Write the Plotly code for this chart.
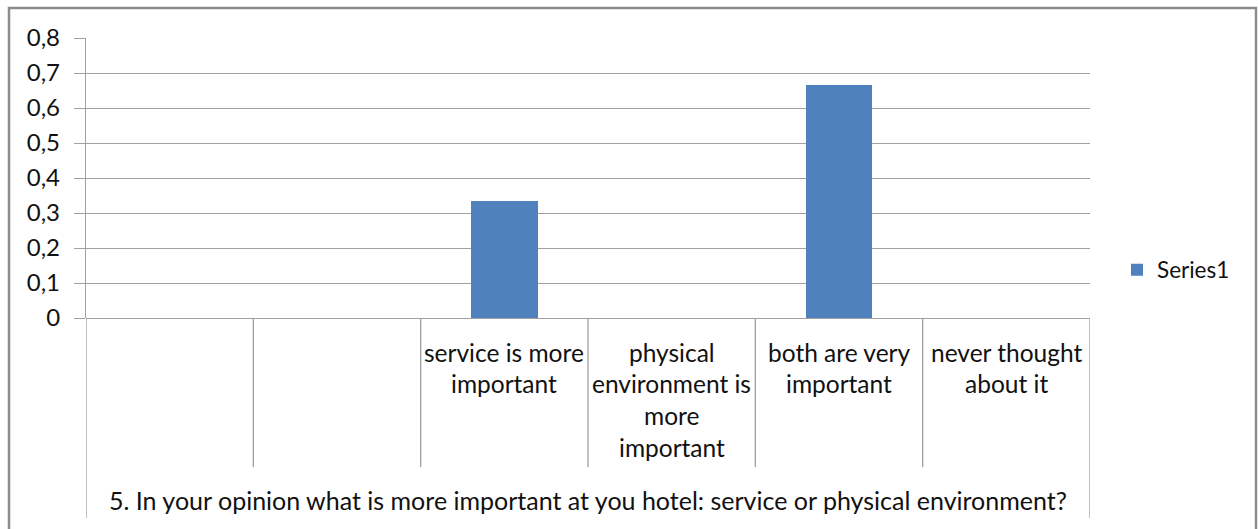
import plotly.graph_objects as go

# ---- data ----
categories = ["", "", "service is more important", "physical environment is more important",
              "both are very important", "never thought about it"]
category_lines = [[], [], ["service is more", "important"],
                  ["physical", "environment is", "more", "important"],
                  ["both are very", "important"], ["never thought", "about it"]]
values = [None, None, 0.333, None, 0.667, None]
group_label = "5. In your opinion what is more important at you hotel: service or physical environment?"
series_name = "Series1"
y_tick_vals = [0, 0.1, 0.2, 0.3, 0.4, 0.5, 0.6, 0.7, 0.8]
y_tick_text = ["0", "0,1", "0,2", "0,3", "0,4", "0,5", "0,6", "0,7", "0,8"]

# ---- layout geometry (pixels) ----
W, H = 1259, 529
PL, PR, PT, PB = 86, 1090, 38, 318   # plot area
ph = PB - PT
pw = PR - PL

def py(y):  # pixel y -> paper y
    return (PB - y) / ph

def px(x):  # pixel x -> paper x
    return (x - PL) / pw

FONT = "Lato"
TXT = "#111"
GRID = "#a0a0a0"
n = len(categories)

fig = go.Figure()
fig.add_trace(go.Bar(
    x=list(range(n)), y=values, name=series_name, width=0.4,
    marker=dict(color="#4F81BD", line=dict(width=0)),
    showlegend=True,
))

shapes = []
# category dividers
for i in range(n + 1):
    xb = i - 0.5
    outer = i == 0 or i == n
    shapes.append(dict(type="line", xref="x", yref="paper", x0=xb, x1=xb,
                       y0=0, y1=py(518 if outer else 467),
                       line=dict(color=GRID, width=1.3), layer="above"))
# outer chart border
shapes.append(dict(type="rect", xref="paper", yref="paper",
                   x0=px(9), x1=px(1256), y0=py(8), y1=py(560),
                   line=dict(color="#8c8c8c", width=2.5), fillcolor="rgba(0,0,0,0)"))

annotations = []
line_gap = 31.8
for i, lines in enumerate(category_lines):
    for j, t in enumerate(lines):
        annotations.append(dict(x=i, xref="x", y=py(352 + j * line_gap), yref="paper",
                                text=t, showarrow=False, xanchor="center", yanchor="middle",
                                font=dict(family=FONT, size=24.5, color=TXT)))
annotations.append(dict(x=(n - 1) / 2, xref="x", y=py(500), yref="paper",
                        text=group_label, showarrow=False, xanchor="center", yanchor="middle",
                        font=dict(family=FONT, size=25, color=TXT)))

fig.update_layout(
    width=W, height=H,
    margin=dict(l=PL, r=W - PR, t=PT, b=H - PB, pad=0),
    paper_bgcolor="white", plot_bgcolor="white",
    font=dict(family=FONT, size=24, color=TXT),
    xaxis=dict(range=[-0.5, n - 0.5], showticklabels=False, showgrid=False,
               zeroline=False, showline=False, ticks=""),
    yaxis=dict(range=[0, 0.8], tickvals=y_tick_vals, ticktext=y_tick_text,
               showgrid=True, gridcolor=GRID, gridwidth=1.3,
               zeroline=True, zerolinecolor=GRID, zerolinewidth=1.3,
               showline=True, linecolor=GRID, linewidth=1.3,
               ticks="outside", ticklen=11, tickcolor=GRID, tickwidth=1.3,
               ticklabelstandoff=9,
               tickfont=dict(family=FONT, size=24, color=TXT)),
    showlegend=True,
    legend=dict(x=px(1117), y=py(270), xanchor="left", yanchor="middle",
                xref="paper", yref="paper", itemwidth=30,
                font=dict(family=FONT, size=22.5, color=TXT),
                bgcolor="rgba(0,0,0,0)"),
    shapes=shapes, annotations=annotations,
    bargap=0,
)

fig.write_html("out.html")
